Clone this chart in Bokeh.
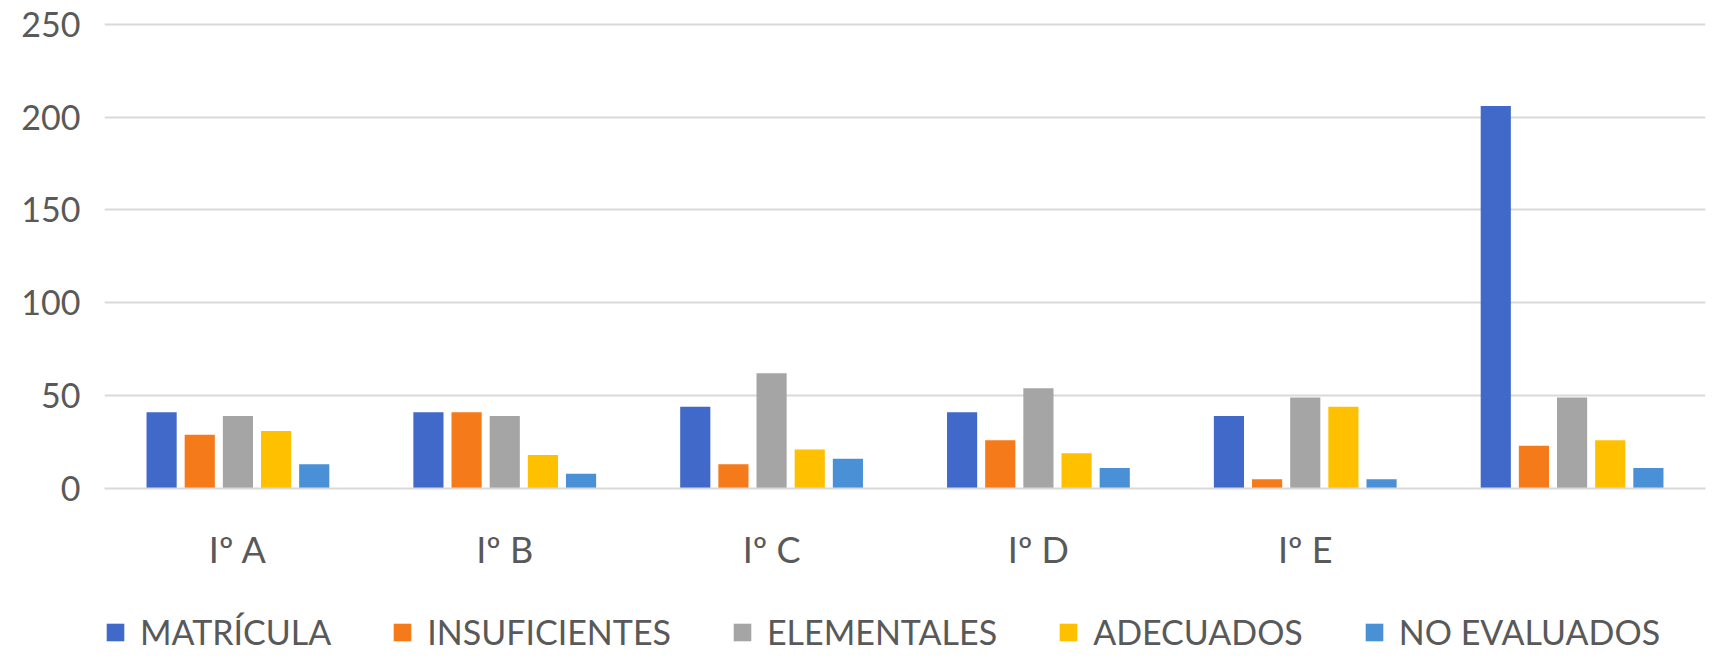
from bokeh.plotting import figure
from bokeh.models import ColumnDataSource, FactorRange, Legend, LegendItem, Range1d
from bokeh.layouts import column
from bokeh.transform import dodge
from bokeh.embed import file_html
from bokeh.resources import INLINE

groups = ["Iº A", "Iº B", "Iº C", "Iº D", "Iº E", " "]
series = ["MATRÍCULA", "INSUFICIENTES", "ELEMENTALES", "ADECUADOS", "NO EVALUADOS"]
matricula = [41, 41, 44, 41, 39, 206]
insuficientes = [29, 41, 13, 26, 5, 23]
elementales = [39, 39, 62, 54, 49, 49]
adecuados = [31, 18, 21, 19, 44, 26]
no_evaluados = [13, 8, 16, 11, 5, 11]
colors = ["#4169C9", "#F57A1A", "#A5A5A5", "#FFC000", "#4A90D6"]
y_ticks = [0, 50, 100, 150, 200, 250]

FONT = "Lato"
TXT = "#595959"

source = ColumnDataSource(dict(
    group=groups,
    s0=matricula, s1=insuficientes, s2=elementales, s3=adecuados, s4=no_evaluados,
))

p = figure(
    x_range=FactorRange(factors=groups, range_padding=0),
    y_range=(0, 252),
    width=1707, height=600,
    output_backend="svg", toolbar_location=None,
    min_border_left=104, min_border_right=2, min_border_top=20, min_border_bottom=112,
)
p.outline_line_color = None
p.background_fill_color = "white"
p.border_fill_color = "white"

step = 0.143
bw = 0.113
for i, name in enumerate(series):
    p.vbar(x=dodge("group", (i - 2) * step, range=p.x_range), top="s%d" % i,
           width=bw, source=source, fill_color=colors[i], line_color=None)

# axes
p.yaxis.ticker = y_ticks
p.yaxis.axis_line_color = None
p.yaxis.major_tick_line_color = None
p.yaxis.minor_tick_line_color = None
p.yaxis.major_tick_out = 0
p.yaxis.major_tick_in = 0
p.yaxis.major_label_standoff = 24
p.yaxis.major_label_text_font = FONT
p.yaxis.major_label_text_font_size = "34px"
p.yaxis.major_label_text_color = TXT

p.xaxis.axis_line_color = "#D9D9D9"
p.xaxis.axis_line_width = 2
p.xaxis.major_tick_line_color = None
p.xaxis.minor_tick_line_color = None
p.xaxis.major_tick_out = 0
p.xaxis.major_tick_in = 0
p.xaxis.major_label_standoff = 38
p.xaxis.major_label_text_font = FONT
p.xaxis.major_label_text_font_size = "36px"
p.xaxis.major_label_text_color = TXT

p.xgrid.grid_line_color = None
p.ygrid.grid_line_color = "#D9D9D9"
p.ygrid.grid_line_width = 2

# legend strip (separate figure below the chart, frames aligned with the chart)
lg = figure(width=1707, height=52, output_backend="svg", toolbar_location=None,
            x_axis_type=None, y_axis_type=None,
            x_range=Range1d(0, 1), y_range=Range1d(0, 1),
            min_border_left=104, min_border_right=2, min_border_top=0, min_border_bottom=0)
lg.outline_line_color = None
lg.xgrid.visible = False
lg.ygrid.visible = False
items = []
for i, name in enumerate(series):
    # zero-height helper bar: only its legend swatch is visible
    r = lg.vbar(x=[0.5], top=[0], bottom=[0], width=0, fill_color=colors[i], line_color=None)
    items.append(LegendItem(label=name, renderers=[r]))

legend = Legend(items=items, orientation="horizontal", location=(0, 0),
                glyph_width=22, glyph_height=22, label_standoff=14, spacing=60,
                padding=0, margin=0, border_line_color=None, background_fill_alpha=0,
                label_text_font=FONT, label_text_font_size="34px", label_text_color=TXT)
lg.add_layout(legend)

open("out.html", "w").write(file_html(column(p, lg, spacing=0), INLINE))
